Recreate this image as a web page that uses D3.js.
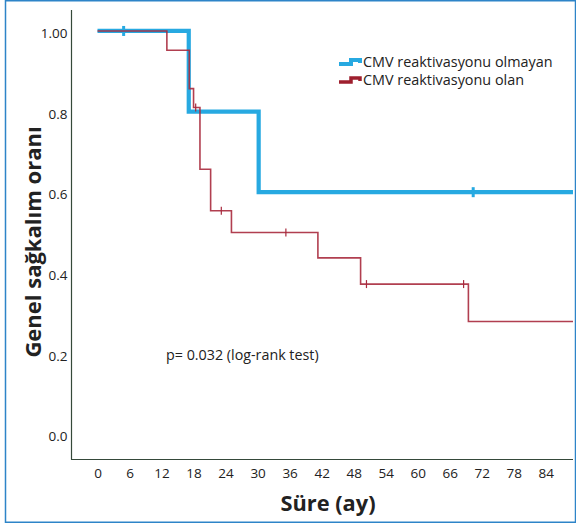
<!DOCTYPE html>
<html>
<head>
<meta charset="utf-8">
<script src="https://cdn.jsdelivr.net/npm/d3@7/dist/d3.min.js"></script>
<style>
  html, body { margin: 0; padding: 0; background: #fff; }
  svg { display: block; }
  text { font-family: "Open Sans", "Noto Sans", sans-serif; fill: #222; }
</style>
</head>
<body>
<svg id="chart" width="576" height="525"></svg>
<script>
// ---- data ----
const xTickValues = [0, 6, 12, 18, 24, 30, 36, 42, 48, 54, 60, 66, 72, 78, 84];
const yTickValues = [0, 0.2, 0.4, 0.6, 0.8, 1.0];
const yTickLabels = ["0.0", "0.2", "0.4", "0.6", "0.8", "1.00"];

const seriesNames = ["CMV reaktivasyonu olmayan", "CMV reaktivasyonu olan"];

// Group without CMV reactivation (blue)
const blueTimes = [0, 17.1, 30.2, 89.1];
const blueSurv  = [1.0, 0.8, 0.6, 0.6];
const blueCensor = [4.9, 70.4];

// Group with CMV reactivation (red)
const redTimes = [0, 13.0, 17.2, 18.0, 19.2, 21.2, 25.1, 41.3, 49.3, 69.5, 89.1];
const redSurv  = [1.0, 0.952, 0.857, 0.81, 0.657, 0.554, 0.5, 0.437, 0.372, 0.279, 0.279];
const redCensor = [18.4, 23.2, 35.3, 50.4, 68.6];

const pText = "p= 0.032 (log-rank test)";
const xTitle = "Süre (ay)";
const yTitle = "Genel sağkalım oranı";

// ---- drawing ----
const svg = d3.select("#chart");

// frame
svg.append("rect")
  .attr("x", 5.5).attr("y", 0.75).attr("width", 570).attr("height", 521.5)
  .attr("fill", "none").attr("stroke", "#2d84c8").attr("stroke-width", 1.5);

const x = d3.scaleLinear().domain([-4.87, 89.1]).range([71.5, 573]);
const y = d3.scaleLinear().domain([-0.062, 1.052]).range([459, 10]);

// axes lines (no tick marks)
const axisColor = "#35493a";
svg.append("line").attr("x1", 71.5).attr("x2", 71.5).attr("y1", 10).attr("y2", 459.5)
  .attr("stroke", axisColor).attr("stroke-width", 1.2);
svg.append("line").attr("x1", 71).attr("x2", 573).attr("y1", 459.5).attr("y2", 459.5)
  .attr("stroke", axisColor).attr("stroke-width", 1.2);

// tick labels via axis generators
const yAxis = d3.axisLeft(y).tickValues(yTickValues)
  .tickFormat((d, i) => yTickLabels[i]).tickSize(0).tickPadding(4);
const gy = svg.append("g").attr("transform", "translate(71.5,0)").call(yAxis);
gy.select(".domain").remove();
gy.selectAll("text").attr("font-size", 13.5).attr("dy", "0.5em").attr("fill", "#222")
  .style("font-family", "'Open Sans', sans-serif");

const xAxis = d3.axisBottom(x).tickValues(xTickValues).tickSize(0).tickPadding(9);
const gx = svg.append("g").attr("transform", "translate(0,459.5)").call(xAxis);
gx.select(".domain").remove();
gx.selectAll("text").attr("font-size", 13.5).attr("fill", "#222")
  .style("font-family", "'Open Sans', sans-serif");

// step lines
const line = d3.line().x(d => x(d[0])).y(d => y(d[1])).curve(d3.curveStepAfter);
const blueColor = "#27a9e1";
const redColor = "#a82a3d";

const bluePts = blueTimes.map((t, i) => [t, blueSurv[i]]);
const redPts = redTimes.map((t, i) => [t, redSurv[i]]);

function survAt(times, surv, t) {
  let s = surv[0];
  for (let i = 0; i < times.length; i++) { if (times[i] <= t) s = surv[i]; }
  return s;
}

svg.append("path").datum(bluePts).attr("d", line)
  .attr("fill", "none").attr("stroke", blueColor).attr("stroke-width", 4.2)
  .attr("stroke-linejoin", "miter");
svg.selectAll(".bc").data(blueCensor).enter().append("line")
  .attr("x1", d => x(d)).attr("x2", d => x(d))
  .attr("y1", d => y(survAt(blueTimes, blueSurv, d)) - 5)
  .attr("y2", d => y(survAt(blueTimes, blueSurv, d)) + 5)
  .attr("stroke", blueColor).attr("stroke-width", 3);

svg.append("path").datum(redPts).attr("d", line)
  .attr("fill", "none").attr("stroke", redColor).attr("stroke-width", 1.6)
  .attr("stroke-opacity", 0.9);
svg.selectAll(".rc").data(redCensor).enter().append("line")
  .attr("x1", d => x(d)).attr("x2", d => x(d))
  .attr("y1", d => y(survAt(redTimes, redSurv, d)) - 4)
  .attr("y2", d => y(survAt(redTimes, redSurv, d)) + 4)
  .attr("stroke", redColor).attr("stroke-width", 1.2);

// legend
const legend = [
  { name: seriesNames[0], color: blueColor, w: 4, y: 62 },
  { name: seriesNames[1], color: "#9e1f2e", w: 3.5, y: 80 }
];
legend.forEach(l => {
  const g = svg.append("g");
  g.append("path")
    .attr("d", `M339,${l.y + 2} H351 V${l.y - 2} H360 V${l.y + 1}`)
    .attr("fill", "none").attr("stroke", l.color).attr("stroke-width", l.w);
  g.append("text").attr("x", 363).attr("y", l.y).attr("dy", "0.35em")
    .attr("font-size", 14.4).text(l.name);
});

// p-value
svg.append("text").attr("x", 166).attr("y", 355).attr("dy", "0.35em")
  .attr("font-size", 14.3).text(pText);

// axis titles
svg.append("text").attr("x", 328).attr("y", 503).attr("dy", "0.35em")
  .attr("text-anchor", "middle").attr("font-size", 21.8).attr("font-weight", "bold")
  .text(xTitle);
svg.append("text").attr("transform", "translate(33,242) rotate(-90)")
  .attr("dy", "0.35em").attr("text-anchor", "middle")
  .attr("font-size", 22).attr("font-weight", "bold").text(yTitle);
</script>
</body>
</html>
